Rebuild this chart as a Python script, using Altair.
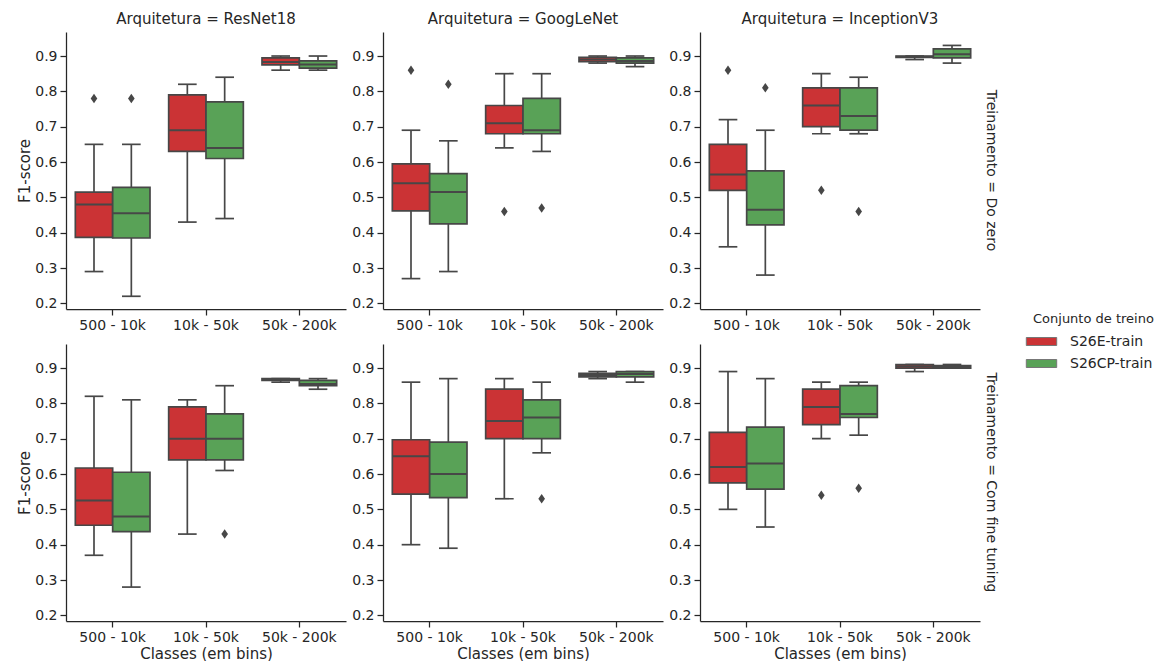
import altair as alt
import pandas as pd

archs = ["ResNet18", "GoogLeNet", "InceptionV3"]
trainings = ["Do zero", "Com fine tuning"]
bins = ["500 - 10k", "10k - 50k", "50k - 200k"]
sets = ["S26E-train", "S26CP-train"]
colors = ["#CB3335", "#59A257"]

# order of the 36 boxes: training -> architecture -> bin -> training set
whisker_lo = [
    0.29, 0.22, 0.43, 0.44, 0.86, 0.86,
    0.27, 0.29, 0.64, 0.63, 0.88, 0.87,
    0.36, 0.28, 0.68, 0.68, 0.89, 0.88,
    0.37, 0.28, 0.43, 0.61, 0.86, 0.84,
    0.40, 0.39, 0.53, 0.66, 0.87, 0.86,
    0.50, 0.45, 0.70, 0.71, 0.89, 0.90,
]
q1 = [
    0.387, 0.385, 0.63, 0.61, 0.875, 0.866,
    0.462, 0.425, 0.68, 0.68, 0.884, 0.880,
    0.52, 0.422, 0.70, 0.69, 0.896, 0.895,
    0.455, 0.437, 0.64, 0.64, 0.865, 0.850,
    0.543, 0.533, 0.70, 0.70, 0.875, 0.875,
    0.575, 0.557, 0.74, 0.76, 0.900, 0.900,
]
median = [
    0.48, 0.455, 0.69, 0.64, 0.883, 0.876,
    0.54, 0.515, 0.71, 0.69, 0.890, 0.886,
    0.565, 0.465, 0.76, 0.73, 0.898, 0.905,
    0.525, 0.48, 0.70, 0.70, 0.867, 0.855,
    0.65, 0.60, 0.75, 0.76, 0.880, 0.883,
    0.62, 0.63, 0.79, 0.77, 0.905, 0.903,
]
q3 = [
    0.515, 0.528, 0.79, 0.77, 0.895, 0.886,
    0.595, 0.567, 0.76, 0.78, 0.896, 0.895,
    0.65, 0.575, 0.81, 0.81, 0.900, 0.920,
    0.617, 0.605, 0.79, 0.77, 0.870, 0.865,
    0.697, 0.69, 0.84, 0.81, 0.885, 0.890,
    0.718, 0.733, 0.84, 0.85, 0.910, 0.907,
]
whisker_hi = [
    0.65, 0.65, 0.82, 0.84, 0.90, 0.90,
    0.69, 0.66, 0.85, 0.85, 0.90, 0.90,
    0.72, 0.69, 0.85, 0.84, 0.90, 0.93,
    0.82, 0.81, 0.81, 0.85, 0.87, 0.87,
    0.86, 0.87, 0.87, 0.86, 0.89, 0.89,
    0.89, 0.87, 0.86, 0.86, 0.91, 0.91,
]

out_training = ["Do zero"] * 10 + ["Com fine tuning"] * 4
out_arch = ["ResNet18", "ResNet18", "GoogLeNet", "GoogLeNet", "GoogLeNet", "GoogLeNet",
            "InceptionV3", "InceptionV3", "InceptionV3", "InceptionV3",
            "ResNet18", "GoogLeNet", "InceptionV3", "InceptionV3"]
out_bin = ["500 - 10k", "500 - 10k", "500 - 10k", "500 - 10k", "10k - 50k", "10k - 50k",
           "500 - 10k", "500 - 10k", "10k - 50k", "10k - 50k",
           "10k - 50k", "10k - 50k", "10k - 50k", "10k - 50k"]
out_set = ["S26E-train", "S26CP-train", "S26E-train", "S26CP-train", "S26E-train", "S26CP-train",
           "S26E-train", "S26CP-train", "S26E-train", "S26CP-train",
           "S26CP-train", "S26CP-train", "S26E-train", "S26CP-train"]
out_value = [0.78, 0.78, 0.86, 0.82, 0.46, 0.47, 0.86, 0.81, 0.52, 0.46, 0.43, 0.53, 0.54, 0.56]

rows = []
i = 0
for tr in trainings:
    for ar in archs:
        for b in bins:
            for s in sets:
                rows.append(dict(training=tr, arch=ar, bin=b, set=s, lo=whisker_lo[i], q1=q1[i],
                                 med=median[i], q3=q3[i], hi=whisker_hi[i]))
                i += 1
box_df = pd.DataFrame(rows)
out_df = pd.DataFrame(dict(training=out_training, arch=out_arch, bin=out_bin, set=out_set, value=out_value))

GRAY = "#474747"
TXT = "#262626"
FONT = "DejaVu Sans"
W, H = 280, 277
BOXW = W / 3 * 0.4

yscale = alt.Scale(domain=[0.184, 0.968], nice=False, zero=False)
xscale = alt.Scale(domain=bins, paddingInner=0, paddingOuter=0)
xoscale = alt.Scale(domain=sets, paddingInner=0, paddingOuter=0.25)
color = alt.Color("set:N", scale=alt.Scale(domain=sets, range=colors),
                  legend=alt.Legend(title="Conjunto de treino", orient="none", legendX=967, legendY=281,
                                    symbolType="M-1.9,-0.5L1.9,-0.5L1.9,0.5L-1.9,0.5Z", symbolSize=256,
                                    symbolStrokeColor="#777777", symbolStrokeWidth=1,
                                    titleFontWeight="normal", titleFontSize=13, labelFontSize=14,
                                    titleFont=FONT, labelFont=FONT, labelOffset=20, rowPadding=6,
                                    titlePadding=7, titleColor=TXT, labelColor=TXT))
diamond = "M0,-1L0.7,0L0,1L-0.7,0Z"


def panel(tr, ar, ri, ci):
    d = box_df[(box_df.training == tr) & (box_df.arch == ar)]
    o = out_df[(out_df.training == tr) & (out_df.arch == ar)]
    xax = alt.Axis(title="Classes (em bins)" if ri == 1 else None, labelAngle=0)
    yax = alt.Axis(title="F1-score" if ci == 0 else None,
                   values=[0.2, 0.3, 0.4, 0.5, 0.6, 0.7, 0.8, 0.9], format=".1f")
    x = alt.X("bin:N", scale=xscale, axis=xax, sort=bins)
    xo = alt.XOffset("set:N", scale=xoscale, sort=sets)

    def Y(f):
        return alt.Y(f, type="quantitative", scale=yscale, axis=yax)

    base = alt.Chart(d)
    wlo = base.mark_rule(color=GRAY, strokeWidth=1.7).encode(x=x, xOffset=xo, y=Y("lo"), y2="q1:Q")
    whi = base.mark_rule(color=GRAY, strokeWidth=1.7).encode(x=x, xOffset=xo, y=Y("q3"), y2="hi:Q")
    caplo = base.mark_tick(color=GRAY, size=BOXW / 2, thickness=1.7, opacity=1).encode(x=x, xOffset=xo, y=Y("lo"))
    caphi = base.mark_tick(color=GRAY, size=BOXW / 2, thickness=1.7, opacity=1).encode(x=x, xOffset=xo, y=Y("hi"))
    box = base.mark_bar(stroke=GRAY, strokeWidth=1.7, opacity=1).encode(
        x=x, xOffset=xo, y=Y("q1"), y2="q3:Q", color=color)
    med = base.mark_tick(color=GRAY, size=BOXW, thickness=2, opacity=1).encode(x=x, xOffset=xo, y=Y("med"))
    layers = [wlo, whi, caplo, caphi, box, med]
    if len(o):
        pts = alt.Chart(o).mark_point(shape=diamond, filled=True, size=90, color=GRAY, opacity=1).encode(
            x=x, xOffset=xo, y=Y("value"))
        layers.append(pts)
    if ci == 2:
        lab = alt.Chart(pd.DataFrame({"t": ["Treinamento = " + tr]})).mark_text(
            angle=90, fontSize=14, font=FONT, color=TXT, align="center", baseline="middle").encode(
            text="t:N", x=alt.value(W + 11), y=alt.value(H / 2))
        layers.append(lab)
    ch = alt.layer(*layers).properties(width=W, height=H)
    if ri == 0:
        ch = ch.properties(title=alt.Title("Arquitetura = " + ar, fontSize=15, fontWeight="normal",
                                           font=FONT, color=TXT, offset=5))
    return ch


grid = alt.vconcat(
    *[alt.hconcat(*[panel(tr, ar, ri, ci) for ci, ar in enumerate(archs)], spacing=5)
      for ri, tr in enumerate(trainings)],
    spacing=12,
).properties(padding={"left": 9, "top": 4, "right": 0, "bottom": 0})

chart = grid.configure_view(stroke=None).configure_axis(
    grid=False, domainColor=TXT, domainWidth=1.25, tickColor=TXT, tickWidth=1.25,
    tickSize=6, labelFont=FONT, titleFont=FONT, labelFontSize=14, titleFontSize=15,
    titleFontWeight="normal", labelColor=TXT, titleColor=TXT, labelPadding=3,
    titlePadding=2,
)

chart.save("out.html", embed_options={"renderer": "svg", "actions": False})
